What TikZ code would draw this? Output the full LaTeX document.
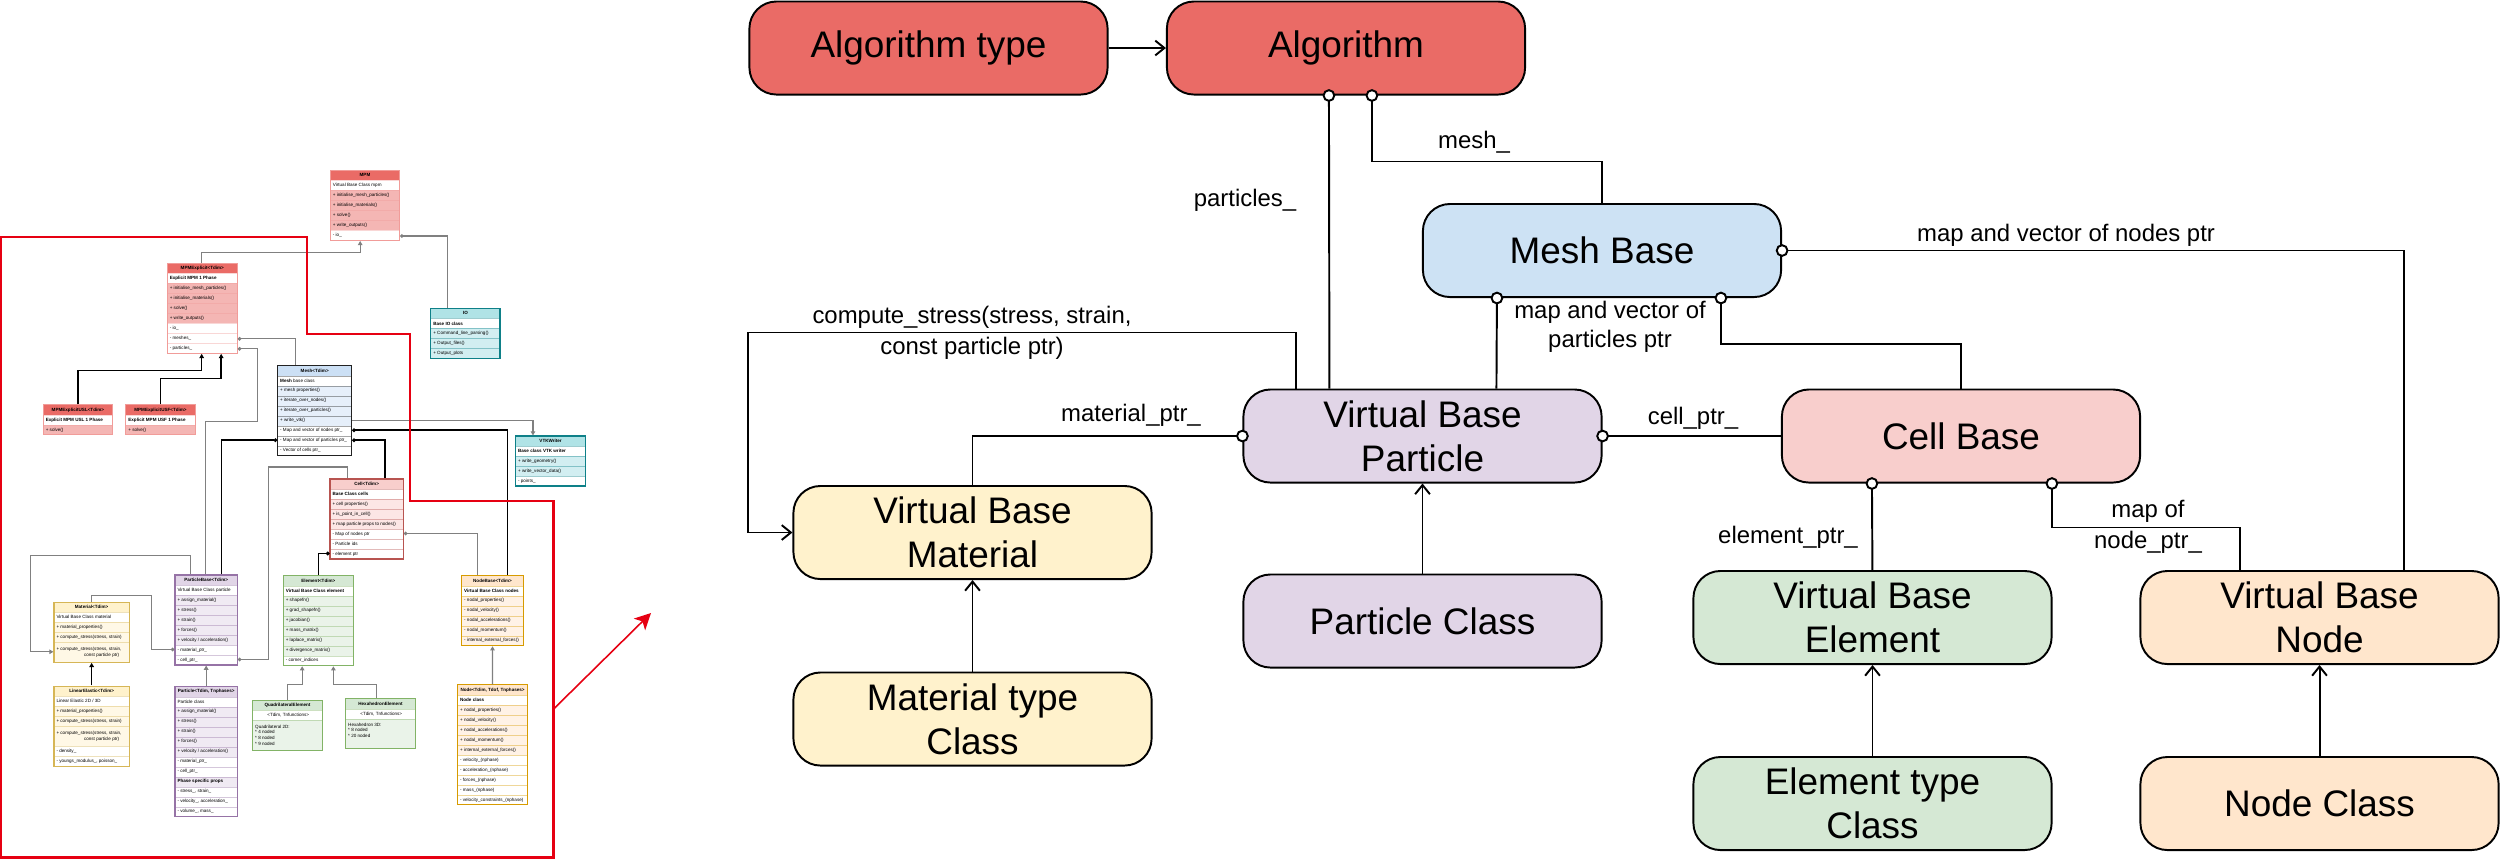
\documentclass[tikz,border=0pt]{standalone}
\usepackage{fontspec}
\setmainfont{Liberation Sans}
\usetikzlibrary{arrows.meta,calc,fit}

\definecolor{algred}{HTML}{EA6B66}
\definecolor{meshblue}{HTML}{CDE2F4}
\definecolor{partpurple}{HTML}{E1D5E7}
\definecolor{cellpink}{HTML}{F8CECC}
\definecolor{matyellow}{HTML}{FFF2CC}
\definecolor{elemgreen}{HTML}{D5E8D4}
\definecolor{nodeorange}{HTML}{FFE6CC}
\definecolor{uline}{HTML}{808080}
\definecolor{outred}{HTML}{E60012}
% thumbnail colour families: h header, m methods, b border, w white rows
\definecolor{mpmh}{HTML}{EA6B66}\definecolor{mpmm}{HTML}{F4B6B4}\definecolor{mpmb}{HTML}{F19C99}\colorlet{mpmw}{white}
\definecolor{ioh}{HTML}{B0E3E6}\definecolor{iom}{HTML}{D2EEF1}\definecolor{iob}{HTML}{0E8088}\colorlet{iow}{white}
\definecolor{msh}{HTML}{CCE0F5}\definecolor{msm}{HTML}{E6EFFA}\definecolor{msb}{HTML}{222222}\colorlet{msw}{white}
\definecolor{clh}{HTML}{F8CECC}\definecolor{clm}{HTML}{FCE6E5}\definecolor{clb}{HTML}{B85450}\colorlet{clw}{white}
\definecolor{pth}{HTML}{E1D5E7}\definecolor{ptm}{HTML}{F0EAF3}\definecolor{ptb}{HTML}{9673A6}\colorlet{ptw}{white}
\definecolor{elh}{HTML}{D5E8D4}\definecolor{elm}{HTML}{EAF3E9}\definecolor{elb}{HTML}{82B366}\colorlet{elw}{white}
\definecolor{mth}{HTML}{FFF2CC}\definecolor{mtm}{HTML}{FFF8E6}\definecolor{mtb}{HTML}{D6B656}\colorlet{mtw}{white}
\definecolor{ndh}{HTML}{FFE6CC}\definecolor{ndm}{HTML}{FFF2E6}\definecolor{ndb}{HTML}{D79B00}\colorlet{ndw}{white}

\newcommand\mainfnt{\fontsize{10.5pt}{12.5pt}\selectfont}
\newcommand\lblfnt{\fontsize{6.8pt}{8.4pt}\selectfont}
\newcommand\ufnt{\fontsize{1.3pt}{1.6pt}\selectfont}

% #1 name, #2 x, #3 y, #4 width, #5 colour family, #6 header, #7 rows height/type/text
\newcommand\umlclass[7]{%
  \begin{scope}[shift={(#2,#3)}]
    \fill[#5h] (0,0) rectangle (#4,10);
    \node[uhd] (#1-hd) at (#4/2,5) {#6};
    \xdef\urowy{10}%
    \foreach \rh/\rt/\rs [count=\ri] in {#7}{%
      \colorlet{ucur}{#5\rt}%
      \fill[fill=ucur] (0,\urowy) rectangle (#4,\urowy+\rh);
      \draw[usep,draw=#5b] (0,\urowy) -- (#4,\urowy);
      \node[utx] (#1-r\ri) at (1.8,\urowy+\rh/2) {\rs};
      \pgfmathsetmacro\utmp{\urowy+\rh}%
      \xdef\urowy{\utmp}%
    }
    \coordinate (#1-nw) at (0,0);
    \coordinate (#1-se) at (#4,\urowy);
  \end{scope}
  \node[ucls,draw=#5b,fit=(#1-nw)(#1-se)] (#1) {};
}

\begin{document}
\begin{tikzpicture}[x=0.01cm,y=-0.01cm,
  cls/.style={rectangle, rounded corners=0.27cm, draw=black, line width=0.55pt,
    minimum width=3.58cm, minimum height=0.93cm, inner sep=0pt, align=center, font=\mainfnt},
  lbl/.style={font=\lblfnt, align=center, inner sep=0pt},
  own/.style={draw=black, line width=0.55pt, {Circle[fill=white,length=3.6pt,width=3.6pt]}-, shorten <=-1.8pt},
  inh/.style={draw=black, line width=0.55pt, -{Straight Barb[length=2.6pt,width=4.2pt]}},
  uhd/.style={inner sep=0pt, font=\ufnt\bfseries},
  utx/.style={anchor=west, inner sep=0pt, font=\ufnt, align=left},
  usep/.style={line width=0.1pt, draw opacity=0.4},
  ucls/.style={rectangle, inner sep=0pt, line width=0.3pt},
  ulg/.style={draw=uline, line width=0.35pt},
  ulk/.style={draw=black, line width=0.45pt},
  utri/.style={-{Triangle[length=1.2pt,width=1.3pt]}},
  uown/.style={{Circle[fill=white,length=1pt,width=1pt]}-},
  redline/.style={draw=outred, line width=0.65pt},
  redarrow/.style={draw=outred, line width=0.45pt, -{Stealth[length=4.6pt,width=4.6pt,inset=1.2pt]}, fill=outred}
]
\useasboundingbox (0,0) rectangle (2500,859);

%%%%%%%%%%%%%%%% thumbnail UML diagram %%%%%%%%%%%%%%%%
\umlclass{mpm}{330.4}{170.4}{69.2}{mpm}{MPM}{%
  10/w/{Virtual Base Class mpm},
  10/m/{+ initialise\_mesh\_particles()},
  10/m/{+ initialise\_materials()},
  10/m/{+ solve()},
  10/m/{+ write\_outputs()},
  10/w/{- io\_}}
\umlclass{io}{430.8}{308.4}{69.2}{io}{IO}{%
  10/w/{\bfseries Base IO class},
  10/m/{+ Command\_line\_parsing()},
  10/m/{+ Output\_files()},
  10/m/{+ Output\_plots}}
\umlclass{mpmx}{167.3}{263.3}{70}{mpm}{MPMExplicit<Tdim>}{%
  10/w/{\bfseries Explicit MPM 1 Phase},
  10/m/{+ initialise\_mesh\_particles()},
  10/m/{+ initialise\_materials()},
  10/m/{+ solve()},
  10/m/{+ write\_outputs()},
  10/w/{- io\_},
  10/w/{- meshes\_},
  10/w/{- particles\_}}
\umlclass{usl}{43.3}{404.8}{69.2}{mpm}{MPMExplicitUSL<Tdim>}{%
  10/w/{\bfseries Explicit MPM USL 1 Phase},
  10/m/{+ solve()}}
\umlclass{usf}{125.9}{404.8}{69.2}{mpm}{MPMExplicitUSF<Tdim>}{%
  10/w/{\bfseries Explicit MPM USF 1 Phase},
  10/m/{+ solve()}}
\umlclass{umesh}{277.7}{365.7}{74}{ms}{Mesh<Tdim>}{%
  10/w/{{\bfseries Mesh} base class},
  10/m/{+ mesh properties()},
  10/m/{+ iterate\_over\_nodes()},
  10/m/{+ iterate\_over\_particles()},
  10/m/{+ write\_vtk()},
  10/w/{- Map and vector of nodes ptr\_},
  10/w/{- Map and vector of particles ptr\_},
  10/w/{- Vector of cells ptr\_}}
\umlclass{vtk}{515.6}{436}{70}{io}{VTKWriter}{%
  10/w/{\bfseries Base class VTK writer},
  10/m/{+ write\_geometry()},
  10/m/{+ write\_vector\_data()},
  10/w/{- points\_}}
\umlclass{ucell}{330}{479}{73.3}{cl}{Cell<Tdim>}{%
  10/w/{\bfseries Base Class cells},
  10/m/{+ cell properties()},
  10/m/{+ is\_point\_in\_cell()},
  10/m/{+ map particle props to nodes()},
  10/w/{- Map of nodes ptr},
  10/w/{- Particle ids},
  10/w/{- element ptr}}
\umlclass{pbase}{175}{575}{62.3}{pt}{ParticleBase<Tdim>}{%
  10/w/{Virtual Base Class particle},
  10/m/{+ assign\_material()},
  10/m/{+ stress()},
  10/m/{+ strain()},
  10/m/{+ forces()},
  10/m/{+ velocity / acceleration()},
  10/w/{- material\_ptr\_},
  10/w/{- cell\_ptr\_}}
\umlclass{uelem}{283.3}{575.7}{70}{el}{Element<Tdim>}{%
  10/w/{\bfseries Virtual Base Class element},
  10/m/{+ shapefn()},
  10/m/{+ grad\_shapefn()},
  10/m/{+ jacobian()},
  10/m/{+ mass\_matrix()},
  10/m/{+ laplace\_matrix()},
  10/m/{+ divergence\_matrix()},
  10/w/{- corner\_indices}}
\umlclass{nbase}{461.7}{575.7}{61.6}{nd}{NodeBase<Tdim>}{%
  10/w/{\bfseries Virtual Base Class nodes},
  10/m/{- nodal\_properties()},
  10/m/{- nodal\_velocity()},
  10/m/{- nodal\_accelerations()},
  10/m/{- nodal\_momentum()},
  10/m/{- internal\_external\_forces()}}
\umlclass{umat}{54}{602.3}{75.3}{mt}{Material<Tdim>}{%
  10/w/{Virtual Base Class material},
  10/m/{+ material\_properties()},
  10/m/{+ compute\_stress(stress, strain)},
  20/m/{+ compute\_stress(stress, strain,\\\hphantom{+ compute\_st}const particle ptr)}}
\umlclass{linel}{54}{686}{75.3}{mt}{LinearElastic<Tdim>}{%
  10/w/{Linear Elastic 2D / 3D},
  10/m/{+ material\_properties()},
  10/m/{+ compute\_stress(stress, strain)},
  20/m/{+ compute\_stress(stress, strain,\\\hphantom{+ compute\_st}const particle ptr)},
  10/w/{- density\_},
  10/w/{- youngs\_modulus\_, poisson\_}}
\umlclass{upart}{175}{686.7}{62.3}{pt}{Particle<Tdim, Tnphases>}{%
  10/w/{Particle class},
  10/m/{+ assign\_material()},
  10/m/{+ stress()},
  10/m/{+ strain()},
  10/m/{+ forces()},
  10/m/{+ velocity / acceleration()},
  10/w/{- material\_ptr\_},
  10/w/{- cell\_ptr\_},
  10/m/{\bfseries Phase specific props},
  10/w/{- stress\_, strain\_},
  10/w/{- velocity\_, acceleration\_},
  10/w/{- volume\_, mass\_}}
\umlclass{quad}{252.7}{700}{69.6}{el}{QuadrilateralElement}{%
  10/w/{\makebox[0.66cm]{<Tdim, Tnfunctions>}},
  30/m/{Quadrilateral 2D:\\* 4 noded\\* 8 noded\\* 9 noded}}
\umlclass{hexa}{345.7}{698.7}{69.6}{el}{HexahedronElement}{%
  10/w/{\makebox[0.66cm]{<Tdim, Tnfunctions>}},
  30/m/{Hexahedron 3D:\\* 8 noded\\* 20 noded\\\strut}}
\umlclass{unode}{457.6}{684.8}{70}{nd}{Node<Tdim, Tdof, Tnphases>}{%
  10/w/{\bfseries Node class},
  10/m/{+ nodal\_properties()},
  10/m/{+ nodal\_velocity()},
  10/m/{+ nodal\_accelerations()},
  10/m/{+ nodal\_momentum()},
  10/m/{+ internal\_external\_forces()},
  10/w/{- velocity\_(nphase)},
  10/w/{- acceleration\_(nphase)},
  10/w/{- forces\_(nphase)},
  10/w/{- mass\_(nphase)},
  10/w/{- velocity\_constraints\_(nphase)}}

% thumbnail connectors
\draw[ulg,utri] ($(mpmx.north west)+(35,0)$) -- ++(0,-10.6) -| ($(mpm.south west)+(30.3,0)$);
\draw[ulg,uown] ($(mpm.south east)+(0,-5)$) -| ($(io.north west)+(17,0)$);
\draw[ulg,uown] ($(mpmx.south east)+(0,-15)$) -| ($(umesh.north west)+(18.3,0)$);
\draw[ulg,uown] ($(mpmx.south east)+(0,-5)$) -| ($(mpmx.south east)+(19.4,67.4)$) -| ($(pbase.north west)+(31,0)$);
\draw[ulk,utri] (usl.north) -- ++(0,-34) -| ($(mpmx.south west)+(34.9,0)$);
\draw[ulk,utri] (usf.north) -- ++(0,-25.8) -| ($(mpmx.south west)+(54.4,0)$);
\draw[ulg,utri] ($(umesh.north east)+(0,55)$) -| ($(vtk.north west)+(17.9,0)$);
\draw[ulk,uown] ($(umesh.north east)+(0,65)$) -| ($(nbase.north west)+(46.3,0)$);
\draw[ulk,uown] ($(umesh.north west)+(0,75)$) -| ($(pbase.north west)+(46.9,0)$);
\draw[ulk,uown] ($(umesh.north east)+(0,75)$) -| ($(ucell.north west)+(55.3,0)$);
\draw[ulg,uown] ($(ucell.north east)+(0,55)$) -| ($(nbase.north west)+(16,0)$);
\draw[ulk,uown] ($(ucell.north west)+(0,75)$) -| (uelem.north);
\draw[ulg,uown] ($(pbase.north east)+(0,85)$) -| ($(pbase.north east)+(30.6,-107.4)$) -| ($(ucell.north west)+(18.2,0)$);
\draw[ulg,uown] ($(pbase.north west)+(0,75)$) -| ($(pbase.north west)+(-23.2,20.7)$) -| (umat.north);
\draw[ulg,utri] ($(pbase.north west)+(16,0)$) -- ++(0,-18.7) -| ($(umat.north west)+(-22.7,50)$) -- ($(umat.north west)+(0,50)$);
\draw[ulk,utri] (linel.north) -- (umat.south);
\draw[ulg,utri] (upart.north) -- (pbase.south);
\draw[ulg,utri] (quad.north) -- ++(0,-15.2) -| ($(uelem.south west)+(19.4,0)$);
\draw[ulg,utri] ($(hexa.north west)+(31,0)$) -- ++(0,-13.9) -| ($(uelem.south west)+(50.6,0)$);
\draw[ulg,utri] (unode.north) -- (nbase.south);

% red outline and arrow
\draw[redline] (1.2,237.3) -- (307,237.3) -- (307,334.2) -- (409.8,334.2) -- (409.8,500.7)
  -- (553.6,500.7) -- (553.6,857.6) -- (1.2,857.6) -- cycle;
\coordinate (ra0) at (553.6,709);
\coordinate (ra1) at (651,613);
\draw[redarrow] (ra0) -- (ra1);

%%%%%%%%%%%%%%%% main diagram %%%%%%%%%%%%%%%%
\node[cls, fill=algred] (algt) at (928.5,48) {Algorithm type};
\node[cls, fill=algred] (alg) at (1346,48) {Algorithm};
\node[cls, fill=meshblue] (mesh) at (1602,250.5) {Mesh Base};
\node[cls, fill=partpurple] (vbp) at (1422.5,436) {Virtual Base\\Particle};
\node[cls, fill=cellpink] (cell) at (1961,436) {Cell Base};
\node[cls, fill=matyellow] (vbm) at (972.5,532.5) {Virtual Base\\Material};
\node[cls, fill=partpurple] (pc) at (1422.5,621) {Particle Class};
\node[cls, fill=matyellow] (mt) at (972.5,719) {Material type\\Class};
\node[cls, fill=elemgreen] (vbe) at (1872.5,617.5) {Virtual Base\\Element};
\node[cls, fill=nodeorange] (vbn) at (2319.5,617.5) {Virtual Base\\Node};
\node[cls, fill=elemgreen] (et) at (1872.5,803.5) {Element type\\Class};
\node[cls, fill=nodeorange] (nc) at (2319.5,803.5) {Node Class};

% connectors
\draw[inh] (algt.east) -- (alg.west);
\draw[own] ($(alg.south west)+(163,0)$) -- ($(vbp.north west)+(87,0)$);
\draw[own] ($(alg.south west)+(206,0)$) -- ++(0,66) -| (mesh.north);
\draw[own] (mesh.east) -| ($(vbn.north west)+(265,0)$);
\draw[own] ($(mesh.south west)+(75,0)$) -- ($(vbp.north west)+(254,0)$);
\draw[own] ($(mesh.south west)+(299,0)$) -- ++(0,46) -| (cell.north);
\draw[inh] ($(vbp.north west)+(54,0)$) -- ++(0,-56) -| ($(vbm.west)+(-44,0)$) -- (vbm.west);
\draw[own] (vbp.west) -| (vbm.north);
\draw[own] (vbp.east) -- (cell.west);
\draw[own] ($(cell.south west)+(91,0)$) -- ($(vbe.north west)+(180,0)$);
\draw[own] ($(cell.south west)+(271,0)$) -- ++(0,44) -| ($(vbn.north west)+(101,0)$);
\draw[inh] (pc.north) -- (vbp.south);
\draw[inh] (mt.north) -- (vbm.south);
\draw[inh] (et.north) -- (vbe.south);
\draw[inh] (nc.north) -- (vbn.south);

% labels
\node[lbl] (l-part) at (1245,200) {particles\_};
\node[lbl] (l-mesh) at (1474,142) {mesh\_};
\node[lbl] (l-cs) at (972,333) {compute\_stress(stress, strain,\\[0.4pt]const particle ptr)};
\node[lbl] (l-mat) at (1131,415) {material\_ptr\_};
\node[lbl] (l-cell) at (1693,418) {cell\_ptr\_};
\node[lbl] (l-mvp) at (1610,327) {map and vector of\\particles ptr};
\node[lbl] (l-mvn) at (2066,235) {map and vector of nodes ptr};
\node[lbl] (l-el) at (1788,537) {element\_ptr\_};
\node[lbl] (l-np) at (2148,527) {map of\\[0.4pt]node\_ptr\_};
\end{tikzpicture}
\end{document}
